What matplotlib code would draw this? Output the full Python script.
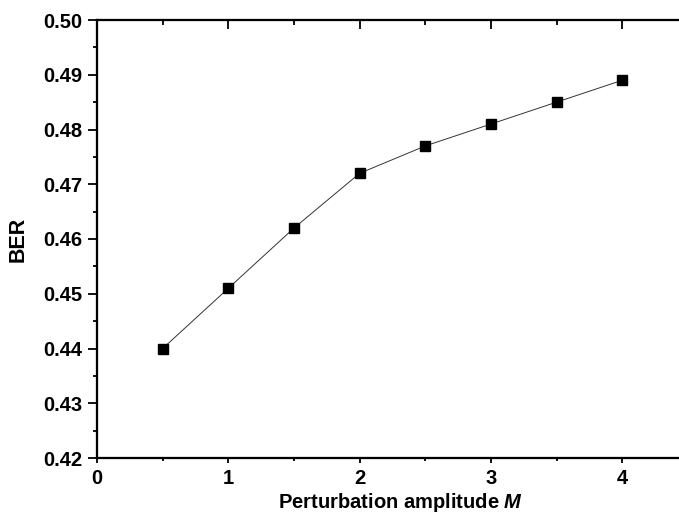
import matplotlib
matplotlib.use('Agg')
import matplotlib.pyplot as plt
from matplotlib.ticker import MultipleLocator

plt.rcParams['font.family'] = 'Liberation Sans'
plt.rcParams['font.weight'] = 'bold'
plt.rcParams['mathtext.fontset'] = 'custom'
plt.rcParams['mathtext.bfit'] = 'Liberation Sans:italic:bold'
plt.rcParams['mathtext.it'] = 'Liberation Sans:italic:bold'

# perturbation amplitude vs bit error rate
amplitude = [0.5, 1.0, 1.5, 2.0, 2.5, 3.0, 3.5, 4.0]
ber = [0.440, 0.451, 0.462, 0.472, 0.477, 0.481, 0.485, 0.489]

fig = plt.figure(figsize=(6.79, 5.15), dpi=100)
ax = fig.add_axes([97 / 679, 57 / 515, 591 / 679, 438 / 515])

ax.plot(amplitude, ber, '-', color='#333333', linewidth=0.7,
        marker='s', markersize=7.8, markerfacecolor='black',
        markeredgecolor='black')

ax.set_xlim(0, 4.5)
ax.set_ylim(0.42, 0.50)
ax.xaxis.set_major_locator(MultipleLocator(1))
ax.xaxis.set_minor_locator(MultipleLocator(0.5))
ax.yaxis.set_major_locator(MultipleLocator(0.01))
ax.yaxis.set_minor_locator(MultipleLocator(0.005))
ax.yaxis.set_major_formatter(plt.FormatStrFormatter('%.2f'))

for side in ['left', 'right', 'top', 'bottom']:
    ax.spines[side].set_linewidth(1.5)

# left/bottom ticks point out, top/right ticks point in
ax.tick_params(axis='y', which='major', left=True, right=False, direction='out',
               length=6.5, width=1.3, labelsize=14.5, pad=4)
ax.tick_params(axis='y', which='minor', left=True, right=False, direction='out',
               length=3, width=1.3)
ax.tick_params(axis='x', which='major', bottom=True, top=False, direction='out',
               length=3.6, width=1.3, labelsize=14.5, pad=4)
ax.tick_params(axis='x', which='minor', bottom=True, top=False, direction='out',
               length=2.2, width=1.3)

ax2 = ax.twinx()
ax2.set_ylim(ax.get_ylim())
ax2.yaxis.set_major_locator(MultipleLocator(0.01))
ax2.yaxis.set_minor_locator(MultipleLocator(0.005))
ax2.tick_params(axis='y', which='major', direction='in', length=6.2, width=1.3,
                labelright=False)
ax2.tick_params(axis='y', which='minor', direction='in', length=3.5, width=1.3)
ax3 = ax.twiny()
ax3.set_xlim(ax.get_xlim())
ax3.xaxis.set_major_locator(MultipleLocator(1))
ax3.xaxis.set_minor_locator(MultipleLocator(0.5))
ax3.tick_params(axis='x', which='major', direction='in', length=6.5, width=1.3,
                labeltop=False)
ax3.tick_params(axis='x', which='minor', direction='in', length=3.5, width=1.3)
for a in [ax2, ax3]:
    for side in a.spines:
        a.spines[side].set_linewidth(1.5)

ax.set_xlabel(r'Perturbation amplitude $\mathit{M}$', fontsize=14.5, fontweight='bold')
ax.xaxis.set_label_coords(0.513, -0.0755)
ax.xaxis.label.set_verticalalignment('top')
ax.set_ylabel('BER', fontsize=15.5, fontweight='bold')
ax.yaxis.set_label_coords(-0.115, 0.5)

fig.savefig('out.png', dpi=100)
